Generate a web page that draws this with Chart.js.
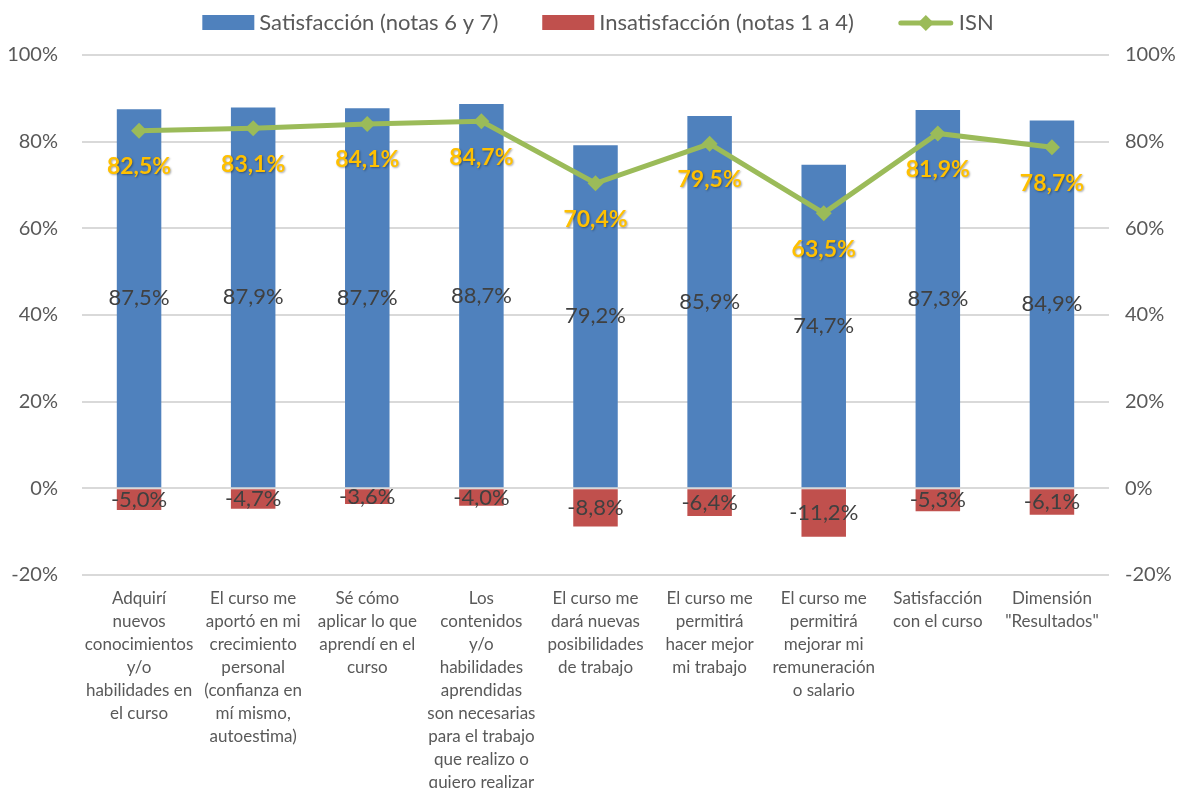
<!DOCTYPE html>
<html><head><meta charset="utf-8">
<script src="https://cdn.jsdelivr.net/npm/chart.js@4/dist/chart.umd.min.js"></script>
<style>html,body{margin:0;padding:0;background:#fff;overflow:hidden;}</style>
</head><body>
<canvas id="c" width="1180" height="788" style="width:1180px;height:788px;display:block"></canvas>
<script>
const categories = [
  ["Adquirí","nuevos","conocimientos","y/o","habilidades en","el curso"],
  ["El curso me","aportó en mi","crecimiento","personal","(confianza en","mí mismo,","autoestima)"],
  ["Sé cómo","aplicar lo que","aprendí en el","curso"],
  ["Los","contenidos","y/o","habilidades","aprendidas","son necesarias","para el trabajo","que realizo o","quiero realizar"],
  ["El curso me","dará nuevas","posibilidades","de trabajo"],
  ["El curso me","permitirá","hacer mejor","mi trabajo"],
  ["El curso me","permitirá","mejorar mi","remuneración","o salario"],
  ["Satisfacción","con el curso"],
  ["Dimensión","\"Resultados\""]
];
const satisfaccion = [87.5, 87.9, 87.7, 88.7, 79.2, 85.9, 74.7, 87.3, 84.9];
const insatisfaccion = [-5.0, -4.7, -3.6, -4.0, -8.8, -6.4, -11.2, -5.3, -6.1];
const isn = [82.5, 83.1, 84.1, 84.7, 70.4, 79.5, 63.5, 81.9, 78.7];
const seriesNames = ["Satisfacción (notas 6 y 7)", "Insatisfacción (notas 1 a 4)", "ISN"];
const yMin = -20, yMax = 100, yStep = 20;

const FONT = "Lato, 'Open Sans', sans-serif";
const BLUE = "#4F81BD", RED = "#C0504D", GREEN = "#9BBB59";

function fmt(v){ return v.toFixed(1).replace('.', ',') + '%'; }

const legendPlugin = {
  id: 'customLegend',
  afterDraw(chart){
    const ctx = chart.ctx;
    ctx.save();
    ctx.font = "22px " + FONT;
    ctx.textBaseline = 'middle'; ctx.textAlign = 'left';
    const iconW = [52, 52, 56], gapIcon = 5, gapItem = 44;
    const widths = chart.data.datasets.map((ds, i) => iconW[i] + gapIcon + ctx.measureText(ds.label).width);
    const total = widths.reduce((a, b) => a + b, 0) + gapItem * (widths.length - 1);
    let x = 598 - total / 2;
    const cy = 23;
    chart.data.datasets.forEach((ds, i) => {
      if (i < 2){
        ctx.fillStyle = ds.backgroundColor;
        ctx.fillRect(x, cy - 8, 52, 15);
      } else {
        ctx.strokeStyle = ds.borderColor; ctx.lineWidth = 5; ctx.lineCap = 'round';
        ctx.beginPath(); ctx.moveTo(x + 3, cy); ctx.lineTo(x + 53, cy); ctx.stroke();
        ctx.fillStyle = ds.borderColor;
        ctx.beginPath(); ctx.moveTo(x + 28, cy - 8); ctx.lineTo(x + 36, cy); ctx.lineTo(x + 28, cy + 8); ctx.lineTo(x + 20, cy); ctx.closePath(); ctx.fill();
      }
      ctx.fillStyle = "#595959";
      ctx.fillText(ds.label, x + iconW[i] + gapIcon, cy);
      x += widths[i] + gapItem;
    });
    ctx.restore();
  }
};

const labelPlugin = {
  id: 'valueLabels',
  afterDatasetsDraw(chart){
    const ctx = chart.ctx;
    ctx.save();
    ctx.textAlign = 'center'; ctx.textBaseline = 'middle';
    [0,1].forEach(di => {
      const meta = chart.getDatasetMeta(di);
      const data = chart.data.datasets[di].data;
      meta.data.forEach((bar, j) => {
        const p = bar.getProps(['x','y','base'], true);
        ctx.font = "22px " + FONT;
        ctx.fillStyle = "#404040";
        ctx.fillText(fmt(data[j]), p.x, (p.y + p.base)/2);
      });
    });
    const lm = chart.getDatasetMeta(2);
    const ld = chart.data.datasets[2].data;
    lm.data.forEach((pt, j) => {
      ctx.font = "bold 23px " + FONT;
      ctx.shadowColor = 'rgba(0,0,0,0.35)';
      ctx.shadowOffsetX = 1; ctx.shadowOffsetY = 1; ctx.shadowBlur = 2;
      ctx.fillStyle = "#FFC000";
      ctx.fillText(fmt(ld[j]), pt.x, pt.y + 36);
    });
    ctx.restore();
  }
};

const yTickOpts = (pad) => ({
  stepSize: yStep,
  padding: pad,
  color: "#595959",
  font: { family: FONT, size: 20 },
  callback: v => v + '%'
});

new Chart(document.getElementById('c'), {
  type: 'bar',
  data: {
    labels: categories,
    datasets: [
      { label: seriesNames[0], data: satisfaccion, backgroundColor: BLUE, yAxisID: 'y', order: 1,
        categoryPercentage: 1, barPercentage: 0.39 },
      { label: seriesNames[1], data: insatisfaccion, backgroundColor: RED, yAxisID: 'y', order: 1,
        categoryPercentage: 1, barPercentage: 0.39 },
      { type: 'line', label: seriesNames[2], data: isn, yAxisID: 'y1', order: 0,
        borderColor: GREEN, backgroundColor: GREEN, borderWidth: 5, tension: 0,
        pointStyle: 'rectRot', pointRadius: 8, pointHoverRadius: 8, pointBorderWidth: 0, fill: false }
    ]
  },
  options: {
    responsive: false,
    animation: false,
    devicePixelRatio: 1,
    layout: { padding: { top: 55, left: 0, right: 0, bottom: 0 } },
    plugins: {
      legend: { display: false },
      tooltip: { enabled: false }
    },
    scales: {
      x: {
        stacked: true,
        grid: { display: false },
        border: { display: false },
        ticks: { color: "#595959", font: { family: FONT, size: 17, lineHeight: 1.35 }, padding: 4, maxRotation: 0, autoSkip: false },
        afterFit(s){ s.height = 213; }
      },
      y: {
        position: 'left', stacked: true, min: yMin, max: yMax,
        grid: { color: "#D9D9D9", lineWidth: 2, drawTicks: false },
        border: { display: false },
        ticks: yTickOpts(24),
        afterFit(s){ s.width = 82; }
      },
      y1: {
        position: 'right', stacked: false, min: yMin, max: yMax,
        grid: { display: false, drawTicks: false },
        border: { display: false },
        ticks: yTickOpts(16),
        afterFit(s){ s.width = 71; }
      }
    }
  },
  plugins: [legendPlugin, labelPlugin]
});
</script>
</body></html>
